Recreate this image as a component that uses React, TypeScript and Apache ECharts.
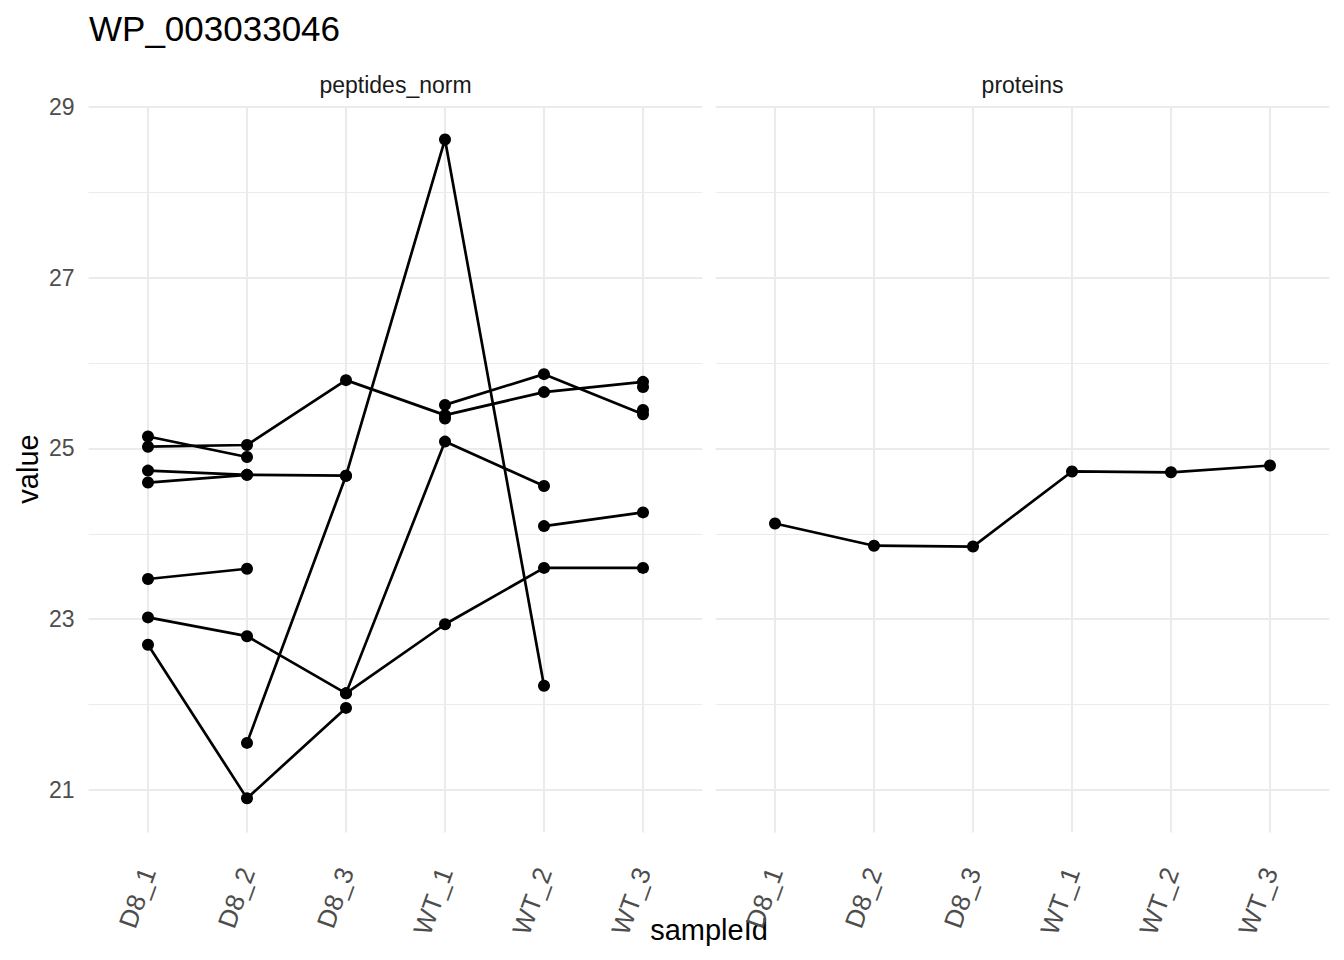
import React, { useEffect, useRef } from "react";
import * as echarts from "echarts";

const sampleIds = ["D8_1", "D8_2", "D8_3", "WT_1", "WT_2", "WT_3"];
const yTickLabels = [21, 23, 25, 27, 29];

// peptides_norm panel: one array per peptide (null = missing)
const pepA = [25.14, 24.9, null, null, null, null];
const pepB = [25.02, 25.04, 25.8, 25.39, 25.66, 25.78];
const pepC = [24.74, 24.69, 24.68, null, null, null];
const pepD = [24.6, 24.69, null, null, null, null];
const pepE = [23.47, 23.59, null, null, null, null];
const pepF = [23.02, 22.8, 22.13, 25.08, 24.56, null];
const pepG = [22.7, 20.9, 21.96, null, null, null];
const pepH = [null, 21.55, 24.68, 28.62, 22.22, null];
const pepI = [null, null, null, 25.51, 25.87, 25.4];
const pepJ = [null, null, 22.13, 22.94, 23.6, 23.6];
const pepK = [null, null, null, null, 24.09, 24.25];
const pepL = [null, null, null, 25.35, null, 25.72];
const pepM = [null, null, null, null, null, 25.45];
const peptides = [pepA, pepB, pepC, pepD, pepE, pepF, pepG, pepH, pepI, pepJ, pepK, pepL, pepM];

// proteins panel
const proteinValues = [24.12, 23.86, 23.85, 24.73, 24.72, 24.8];

const FONT = "'Liberation Sans', Arial, Helvetica, sans-serif";
const GRID = "#EBEBEB";
const T = "rgba(0,0,0,0)";

export default function App() {
  const ref = useRef<HTMLDivElement>(null);
  useEffect(() => {
    const chart = echarts.init(ref.current!, null, { renderer: "svg" });
    const TOP = 107;
    const HEIGHT = 725.5;
    const yCommon = {
      type: "value",
      min: 20.5,
      max: 29,
      interval: 0.5,
      axisLine: { show: false },
      axisTick: { show: false },
    };
    const xData = (gridIndex: number) => ({
      gridIndex,
      type: "category",
      data: sampleIds,
      boundaryGap: false,
      axisLine: { show: false },
      axisTick: { show: false },
      splitLine: { show: true, interval: 0, lineStyle: { color: GRID, width: 2.1 } },
      axisLabel: {
        interval: 0,
        rotate: 70,
        fontSize: 26,
        color: "#4D4D4D",
        margin: 36,
        fontFamily: FONT,
      },
    });
    const lineSeries = (data: (number | null)[], xi: number, yi: number) => ({
      type: "line",
      xAxisIndex: xi,
      yAxisIndex: yi,
      data,
      symbol: "circle",
      symbolSize: 12,
      showSymbol: true,
      showAllSymbol: true,
      connectNulls: false,
      silent: true,
      lineStyle: { color: "#000", width: 2.7 },
      itemStyle: { color: "#000" },
      emphasis: { disabled: true },
    });
    const option: any = {
      animation: false,
      backgroundColor: "#fff",
      grid: [
        { left: 88.6, top: TOP, width: 613.8, height: HEIGHT, outerBoundsMode: "none" },
        { left: 148, top: TOP, width: 495, height: HEIGHT, outerBoundsMode: "none" },
        { left: 715.6, top: TOP, width: 613.8, height: HEIGHT, outerBoundsMode: "none" },
        { left: 775, top: TOP, width: 495, height: HEIGHT, outerBoundsMode: "none" },
      ],
      xAxis: [
        { gridIndex: 0, type: "category", data: sampleIds, show: false },
        xData(1),
        { gridIndex: 2, type: "category", data: sampleIds, show: false },
        xData(3),
      ],
      yAxis: [
        {
          ...yCommon,
          gridIndex: 0,
          axisLabel: {
            formatter: (v: number) => (yTickLabels.indexOf(v) >= 0 ? String(v) : ""),
            fontSize: 23,
            color: "#4D4D4D",
            margin: 14,
            fontFamily: FONT,
          },
          splitLine: { show: true, lineStyle: { color: [T, GRID, T, T], width: 2.1 } },
        },
        {
          ...yCommon,
          gridIndex: 0,
          axisLabel: { show: false },
          splitLine: { show: true, lineStyle: { color: [T, T, T, GRID], width: 1.05 } },
        },
        { ...yCommon, gridIndex: 1, show: false },
        {
          ...yCommon,
          gridIndex: 2,
          axisLabel: { show: false },
          splitLine: { show: true, lineStyle: { color: [T, GRID, T, T], width: 2.1 } },
        },
        {
          ...yCommon,
          gridIndex: 2,
          axisLabel: { show: false },
          splitLine: { show: true, lineStyle: { color: [T, T, T, GRID], width: 1.05 } },
        },
        { ...yCommon, gridIndex: 3, show: false },
      ],
      series: [
        ...peptides.map((p) => lineSeries(p, 1, 2)),
        lineSeries(proteinValues, 3, 5),
      ],
      graphic: [
        {
          type: "text",
          x: 89,
          y: 28.4,
          style: { text: "WP_003033046", fontSize: 35, fontFamily: FONT, fill: "#000", textAlign: "left", textVerticalAlign: "middle" },
        },
        {
          type: "text",
          x: 395.5,
          y: 85.3,
          style: { text: "peptides_norm", fontSize: 23, fontFamily: FONT, fill: "#1A1A1A", textAlign: "center", textVerticalAlign: "middle" },
        },
        {
          type: "text",
          x: 1022.5,
          y: 85.3,
          style: { text: "proteins", fontSize: 23, fontFamily: FONT, fill: "#1A1A1A", textAlign: "center", textVerticalAlign: "middle" },
        },
        {
          type: "text",
          x: 28,
          y: 469,
          rotation: Math.PI / 2,
          style: { text: "value", fontSize: 29, fontFamily: FONT, fill: "#000", textAlign: "center", textVerticalAlign: "middle" },
        },
        {
          type: "text",
          x: 709,
          y: 930,
          style: { text: "sampleId", fontSize: 29, fontFamily: FONT, fill: "#000", textAlign: "center", textVerticalAlign: "middle" },
        },
      ],
    };
    chart.setOption(option);
    return () => chart.dispose();
  }, []);
  return (
    <div
      ref={ref}
      style={{ position: "fixed", left: 0, top: 0, width: 1344, height: 960, background: "#fff" }}
    />
  );
}
